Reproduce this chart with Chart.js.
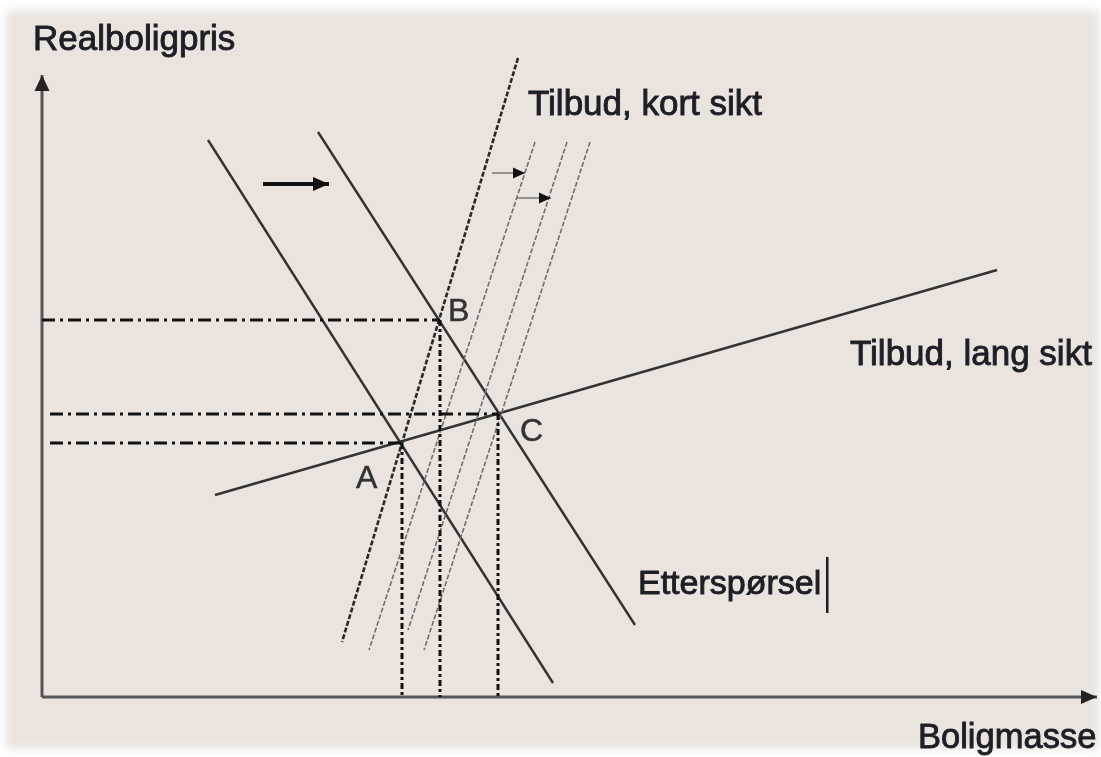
<!DOCTYPE html>
<html>
<head>
<meta charset="utf-8">
<script src="https://cdn.jsdelivr.net/npm/chart.js@4.4.0/dist/chart.umd.min.js"></script>
<style>
  html, body { margin: 0; padding: 0; background: #ffffff; }
  #wrap { width: 1101px; height: 757px; }
</style>
</head>
<body>
<div id="wrap"><canvas id="diagram" width="1101" height="757"></canvas></div>
<script>
// units: quantity (x) and real price (y), origin at the axis corner
const demandOld = [{ x: 16.6, y: 55.7 }, { x: 51.1, y: 1.4 }];
const demandNew = [{ x: 27.6, y: 56.5 }, { x: 59.3, y: 7.2 }];
const supplyShort = [{ x: 47.6, y: 63.9 }, { x: 30.0, y: 5.5 }];
const supplyShift1 = [{ x: 49.3, y: 55.5 }, { x: 32.7, y: 4.7 }];
const supplyShift2 = [{ x: 52.5, y: 55.5 }, { x: 36.6, y: 6.7 }];
const supplyShift3 = [{ x: 54.8, y: 55.5 }, { x: 38.2, y: 4.7 }];
const supplyLong = [{ x: 17.3, y: 20.2 }, { x: 95.5, y: 42.7 }];

// equilibrium points A, B, C
const eqNames = ['A', 'B', 'C'];
const eqQ = [36.0, 39.8, 45.6];
const eqP = [25.4, 37.7, 28.3];
const guideStart = [0.8, 0, 0.8];

// shift arrows
const demandShiftArrow = [{ x: 22.1, y: 51.3 }, { x: 28.7, y: 51.3 }];
const supplyArrow1 = [{ x: 45.0, y: 52.4 }, { x: 48.3, y: 52.4 }];
const supplyArrow2 = [{ x: 47.5, y: 49.9 }, { x: 50.9, y: 49.9 }];

const axisX = [{ x: 0, y: 0 }, { x: 105.5, y: 0 }];
const axisY = [{ x: 0, y: 0 }, { x: 0, y: 62.2 }];

const notes = [
  { text: 'Realboligpris', x: -0.9, y: 65.7, size: 35 },
  { text: 'Tilbud, kort sikt', x: 48.6, y: 59.2, size: 35 },
  { text: 'Tilbud, lang sikt', x: 80.8, y: 34.2, size: 35 },
  { text: 'Etterspørsel', x: 59.6, y: 11.2, size: 34 },
  { text: 'Boligmasse', x: 87.6, y: -4.1, size: 34.5 },
];
const eqLabelPos = [[31.4, 21.8], [40.6, 38.5], [47.8, 26.5]];

const ink = '#1e1e26';

function line(data, color, width, dash, extra) {
  return Object.assign({
    data, showLine: true, borderColor: color, backgroundColor: color,
    borderWidth: width, borderDash: dash || [], pointRadius: 0, clip: false,
  }, extra || {});
}

const datasets = [];
eqNames.forEach((n, i) => {
  datasets.push(line([{ x: guideStart[i], y: eqP[i] }, { x: eqQ[i], y: eqP[i] }], '#111', 3, [13, 5, 3, 5]));
  datasets.push(line([{ x: eqQ[i], y: eqP[i] }, { x: eqQ[i], y: 0 }], '#111', 3, [6, 3, 3, 3]));
});
datasets.push(line(supplyShift1, '#6e6e6e', 1.6, [5, 2]));
datasets.push(line(supplyShift2, '#6e6e6e', 1.6, [5, 2]));
datasets.push(line(supplyShift3, '#6e6e6e', 1.6, [5, 2]));
datasets.push(line(supplyShort, '#2a2a2a', 2.6, [5, 2]));
datasets.push(line(demandOld, '#333', 2.4));
datasets.push(line(demandNew, '#333', 2.4));
datasets.push(line(supplyLong, '#333', 2.4));
datasets.push(line(demandShiftArrow, '#111', 4, [], { arrowLen: 16, arrowWidth: 14 }));
datasets.push(line(supplyArrow1, '#777', 1.5, [], { arrowLen: 12, arrowWidth: 11, arrowColor: '#111' }));
datasets.push(line(supplyArrow2, '#777', 1.5, [], { arrowLen: 12, arrowWidth: 11, arrowColor: '#111' }));
datasets.push(line(axisX, '#555', 3, [], { arrowLen: 16, arrowWidth: 14, arrowColor: '#222' }));
datasets.push(line(axisY, '#555', 3, [], { arrowLen: 16, arrowWidth: 15, arrowColor: '#222' }));

const paper = {
  id: 'paper',
  beforeDraw(chart) {
    const ctx = chart.ctx;
    ctx.save();
    ctx.fillStyle = '#ffffff';
    ctx.fillRect(0, 0, chart.width, chart.height);
    ctx.filter = 'blur(4px)';
    ctx.fillStyle = '#ebe4de';
    ctx.fillRect(6, 10, chart.width - 8, chart.height - 18);
    ctx.restore();
  }
};

function heavyText(ctx, text, x, y) {
  ctx.fillText(text, x, y);
  ctx.strokeText(text, x, y);
}

const arrowsAndText = {
  id: 'arrowsAndText',
  afterDatasetsDraw(chart) {
    const ctx = chart.ctx;
    const xs = chart.scales.x, ys = chart.scales.y;
    ctx.save();
    chart.data.datasets.forEach(ds => {
      if (!ds.arrowLen) return;
      const a = ds.data[ds.data.length - 2], b = ds.data[ds.data.length - 1];
      const x0 = xs.getPixelForValue(a.x), y0 = ys.getPixelForValue(a.y);
      const x1 = xs.getPixelForValue(b.x), y1 = ys.getPixelForValue(b.y);
      const ang = Math.atan2(y1 - y0, x1 - x0);
      ctx.save();
      ctx.translate(x1, y1);
      ctx.rotate(ang);
      ctx.fillStyle = ds.arrowColor || ds.borderColor;
      ctx.beginPath();
      ctx.moveTo(0, 0);
      ctx.lineTo(-ds.arrowLen, -ds.arrowWidth / 2);
      ctx.lineTo(-ds.arrowLen, ds.arrowWidth / 2);
      ctx.closePath();
      ctx.fill();
      ctx.restore();
    });

    ctx.fillStyle = ink;
    ctx.strokeStyle = ink;
    ctx.lineWidth = 0.9;
    ctx.textBaseline = 'middle';
    ctx.textAlign = 'left';
    notes.forEach(n => {
      ctx.font = n.size + "px 'Liberation Sans', Arial, sans-serif";
      heavyText(ctx, n.text, xs.getPixelForValue(n.x), ys.getPixelForValue(n.y));
    });
    // caret after "Etterspørsel"
    const e = notes[3];
    ctx.font = e.size + "px 'Liberation Sans', Arial, sans-serif";
    const cx = xs.getPixelForValue(e.x) + ctx.measureText(e.text).width + 6;
    const cy = ys.getPixelForValue(e.y);
    ctx.lineWidth = 2.5;
    ctx.beginPath();
    ctx.moveTo(cx, cy - 28);
    ctx.lineTo(cx, cy + 28);
    ctx.stroke();

    ctx.fillStyle = '#333';
    ctx.strokeStyle = '#333';
    ctx.lineWidth = 0.5;
    ctx.font = "32px 'Liberation Sans', Arial, sans-serif";
    eqNames.forEach((n, i) => {
      heavyText(ctx, n, xs.getPixelForValue(eqLabelPos[i][0]), ys.getPixelForValue(eqLabelPos[i][1]));
    });
    ctx.restore();
  }
};

new Chart(document.getElementById('diagram'), {
  type: 'scatter',
  data: { datasets },
  options: {
    responsive: false,
    devicePixelRatio: 1,
    animation: false,
    layout: { padding: { left: 42, right: 0, top: 37, bottom: 60 } },
    scales: {
      x: { type: 'linear', min: 0, max: 105.9, display: false },
      y: { type: 'linear', min: 0, max: 66, display: false },
    },
    plugins: { legend: { display: false }, tooltip: { enabled: false } },
  },
  plugins: [paper, arrowsAndText],
});
</script>
</body>
</html>
